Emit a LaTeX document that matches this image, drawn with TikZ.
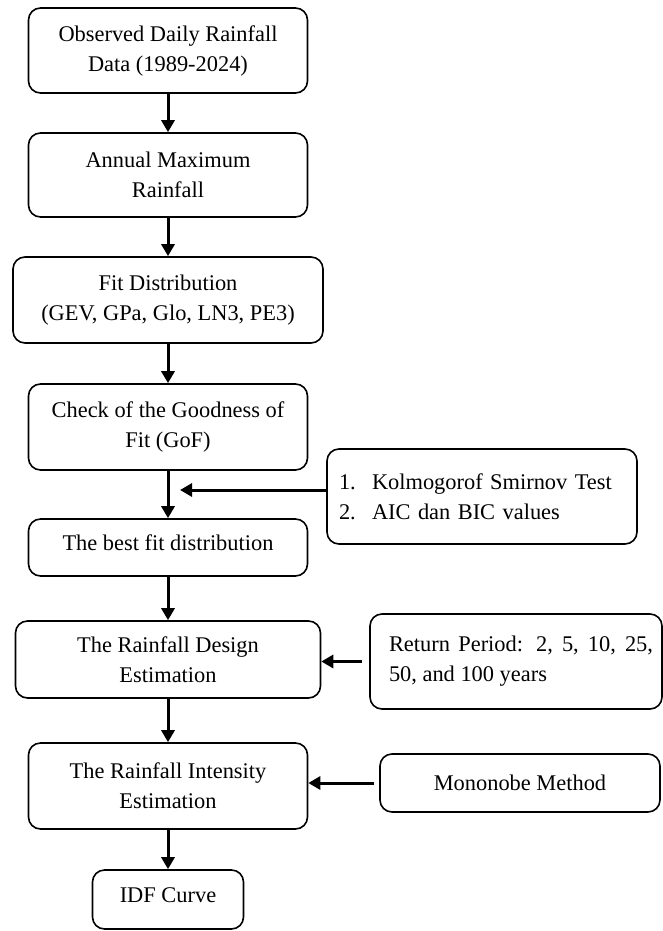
\documentclass[tikz,border=0pt]{standalone}
\usepackage{fontspec}
\setmainfont{Liberation Serif}
\usetikzlibrary{arrows.meta}
\begin{document}
\begin{tikzpicture}[x=1pt,y=-1pt,
  box/.style={draw, line width=1.6pt, rounded corners=12pt, align=center, inner sep=0pt,
    font=\fontsize{22.4}{30}\selectfont},
  arr/.style={line width=3pt, -{Triangle[width=13pt,length=12pt]}}]
\useasboundingbox (0,0) rectangle (663,931);

\node[box, minimum width=279pt, minimum height=85pt] (b1) at (168,50.5) {Observed Daily Rainfall\\Data (1989-2024)};
\node[box, minimum width=279pt, minimum height=84pt] (b2) at (168,175) {Annual Maximum\\Rainfall};
\node[box, minimum width=310pt, minimum height=86pt] (b3) at (168,300) {Fit Distribution\\(GEV, GPa, Glo, LN3, PE3)};
\node[box, minimum width=279pt, minimum height=86pt] (b4) at (168,427) {Check of the Goodness of\\Fit (GoF)};
\node[box, minimum width=279pt, minimum height=57pt, text depth=9pt] (b5) at (168,547.5) {The best fit distribution};
\node[box, minimum width=305pt, minimum height=77pt] (b6) at (168,659.5) {The Rainfall Design\\Estimation};
\node[box, minimum width=279pt, minimum height=86pt] (b7) at (168,786) {The Rainfall Intensity\\Estimation};
\node[box, minimum width=151pt, minimum height=59pt, text depth=9pt] (b8) at (168,899.5) {IDF Curve};

\node[box, minimum width=310pt, minimum height=95pt, text width=286pt, align=left, inner xsep=12pt] (ks) at (482,496.5)
  {\makebox[33pt][l]{1.}Kolmogorof Smirnov Test\\\makebox[33pt][l]{2.}AIC dan BIC values};
\node[box, minimum width=292pt, minimum height=95pt, align=none] (ret) at (516,661.5)
  {\hspace*{10pt}\parbox{264pt}{Return Period: 2, 5, 10, 25,\linebreak 50, and 100 years}};
\node[box, minimum width=280pt, minimum height=58pt] (mono) at (520,783) {Mononobe Method};

\coordinate (t) at (180,490);

\draw[arr] (b1) -- (b2);
\draw[arr] (b2) -- (b3);
\draw[arr] (b3) -- (b4);
\draw[arr] (b4) -- (b5);
\draw[arr] (b5) -- (b6);
\draw[arr] (b6) -- (b7);
\draw[arr] (b7) -- (b8);
\draw[arr] (ks.west |- t) -- (t);
\draw[arr, shorten <=7pt] (ret.west) -- (ret.west -| b6.east);
\draw[arr, shorten <=5pt] (mono.west) -- (mono.west -| b7.east);
\end{tikzpicture}
\end{document}
